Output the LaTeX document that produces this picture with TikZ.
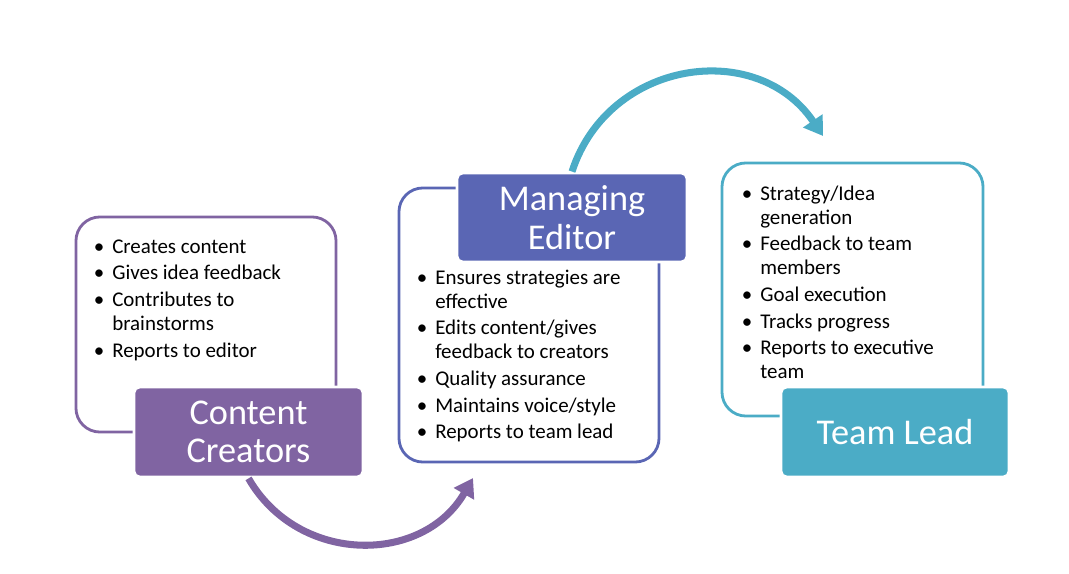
\documentclass[tikz,border=0pt]{standalone}
\usepackage{fontspec}
\setmainfont{Carlito}
\usepackage{tikz}
\usetikzlibrary{arrows.meta,positioning}
\definecolor{purp}{RGB}{128,100,162}
\definecolor{indi}{RGB}{90,102,180}
\definecolor{aqua}{RGB}{75,172,198}
\newenvironment{duties}{\fontsize{14.9}{17}\selectfont
  \begin{list}{\textbullet}{\setlength{\leftmargin}{12.8pt}\setlength{\labelwidth}{8pt}%
    \setlength{\labelsep}{5.7pt}\setlength{\itemsep}{2pt}\setlength{\parsep}{0pt}%
    \setlength{\topsep}{0pt}\setlength{\partopsep}{0pt}}}{\end{list}}

\begin{document}
\begin{tikzpicture}[x=0.025cm, y=0.025cm]
   \useasboundingbox (0,0) rectangle (1069,573);
   \begin{scope}[every node/.style={draw, fill=white, rounded corners=17pt, line width=2pt}]
    \node (cbox) [draw=purp, minimum width=6.5cm, minimum height=5.375cm] at (206,248.5) {};
    \node (mbox) [draw=indi, minimum width=6.5cm, minimum height=6.85cm] at (529,248) {};
    \node (tbox) [draw=aqua, minimum width=6.525cm, minimum height=6.325cm] at (852.5,283.5) {};
   \end{scope}
   \begin{scope}[every node/.style={anchor=north west, text width=7cm, inner sep=0pt}]
    \node (clist) at (94,344) {\begin{duties}
      \item Creates content
      \item Gives idea feedback
      \item Contributes to\\ brainstorms
      \item Reports to editor
    \end{duties}};
    \node (mlist) at (417,313) {\begin{duties}
      \item Ensures strategies are\\ effective
      \item Edits content/gives\\ feedback to creators
      \item Quality assurance
      \item Maintains voice/style
      \item Reports to team lead
    \end{duties}};
    \node (tlist) at (742,397) {\begin{duties}
      \item Strategy/Idea\\ generation
      \item Feedback to team\\ members
      \item Goal execution
      \item Tracks progress
      \item Reports to executive\\ team
    \end{duties}};
   \end{scope}
   \begin{scope}[every node/.style={draw=white, line width=2pt, rounded corners=4pt, text=white,
       align=center, font=\fontsize{25.8}{27.5}\selectfont}]
    \node (clab) [fill=purp, minimum width=5.725cm, minimum height=2.25cm] at (248.5,141) {Content\\Creators};
    \node (mlab) [fill=indi, minimum width=5.75cm, minimum height=2.225cm] at (572,355.5) {Managing\\Editor};
    \node (tlab) [fill=aqua, minimum width=5.7cm, minimum height=2.25cm] at (895,141) {Team Lead};
   \end{scope}
   \coordinate (cend) at (473,95);
   \coordinate (mend) at (823,437);
   \begin{scope}[every edge/.style={draw, line width=5pt, -{Triangle[length=13pt,width=16pt]}}]
    \draw  (clab.south) edge [purp, out=-60, in=-120, looseness=1.14] (cend);
    \draw  (mlab.north) edge [aqua, out=72, in=124, looseness=1.19] (mend);
   \end{scope}
\end{tikzpicture}
\end{document}
